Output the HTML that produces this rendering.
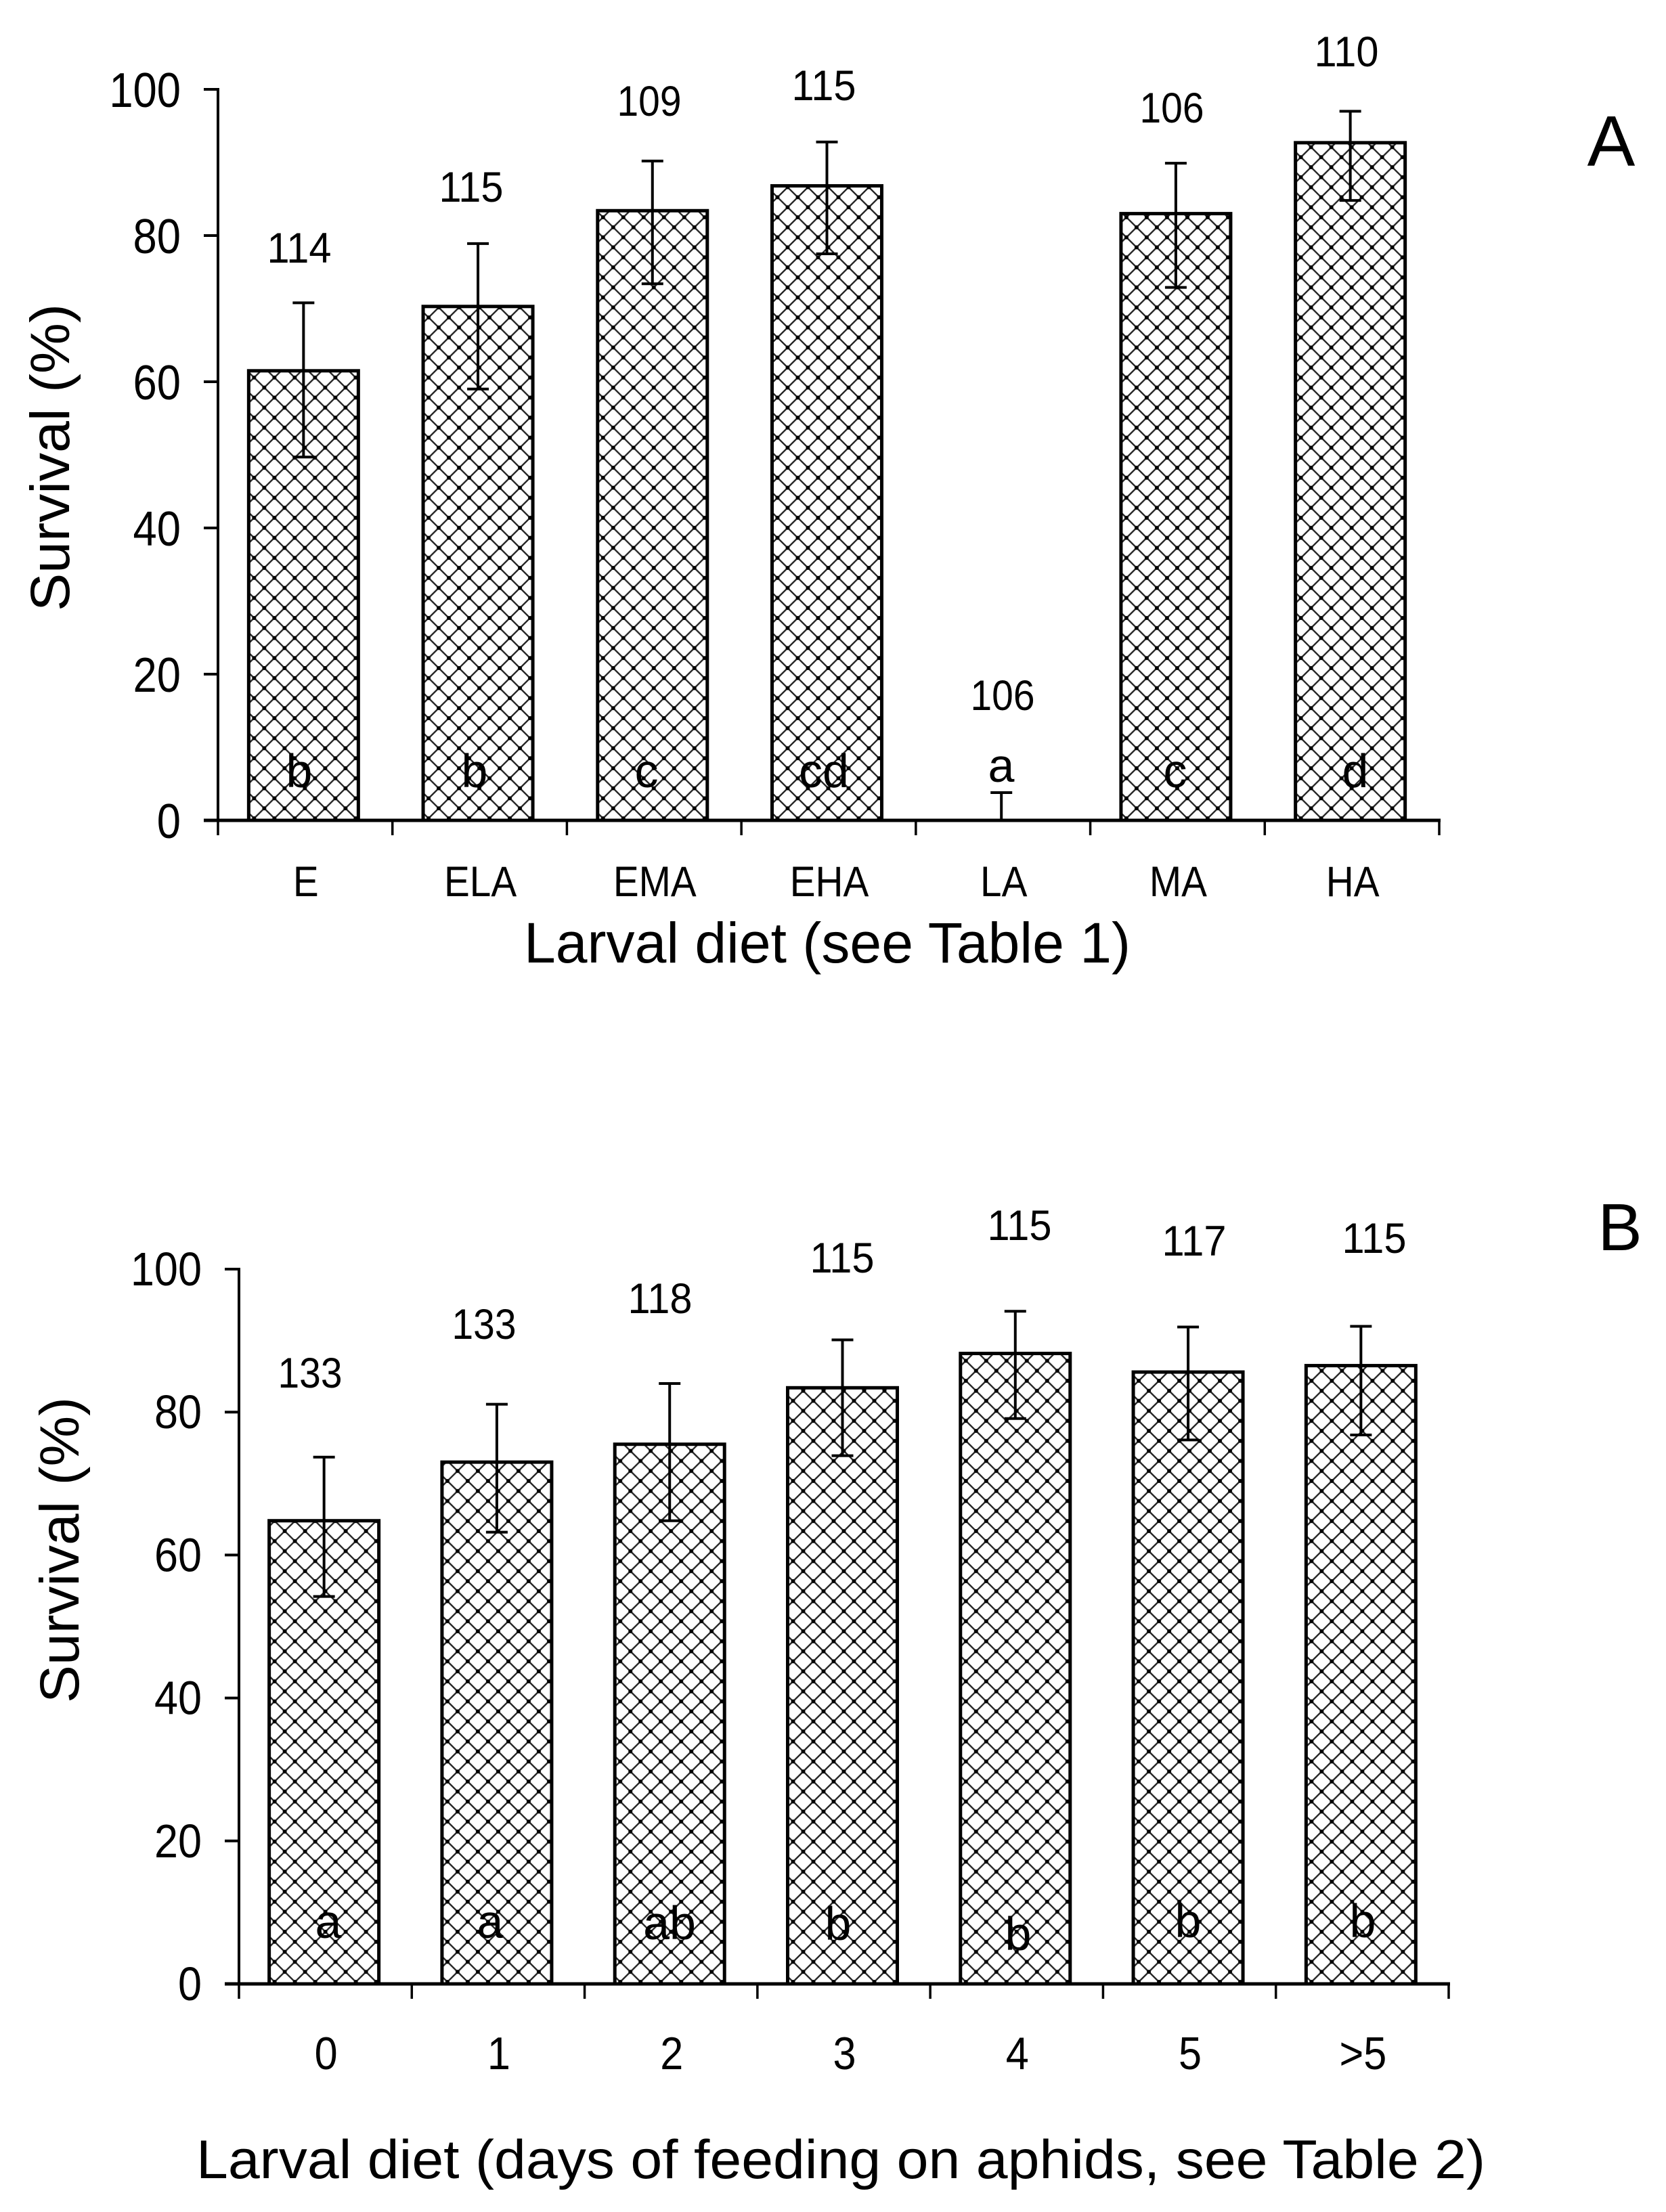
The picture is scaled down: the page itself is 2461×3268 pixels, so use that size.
<!DOCTYPE html>
<html lang="en">
<head>
<meta charset="utf-8">
<title>Larval survival by diet</title>
<style>
html,body{margin:0;padding:0;background:#fff;}
svg{display:block;}
text{font-family:"Liberation Sans",Arial,sans-serif;fill:#000;}
.n{font-size:63px;text-anchor:middle;}
.sig{font-size:70px;text-anchor:middle;}
</style>
</head>
<body>
<svg id="figure" xmlns="http://www.w3.org/2000/svg" width="2461" height="3268" viewBox="0 0 2461 3268">
  <rect width="2461" height="3268" fill="#fff"/>
  <defs id="defs"></defs>
  <g id="panelA"></g>
  <g id="panelB"></g>

  <g>
    <text class="n" x="442" y="388" textLength="95" lengthAdjust="spacingAndGlyphs">114</text>
    <text class="n" x="696" y="298" textLength="95" lengthAdjust="spacingAndGlyphs">115</text>
    <text class="n" x="959" y="171" textLength="95" lengthAdjust="spacingAndGlyphs">109</text>
    <text class="n" x="1217" y="148" textLength="95" lengthAdjust="spacingAndGlyphs">115</text>
    <text class="n" x="1481" y="1049" textLength="95" lengthAdjust="spacingAndGlyphs">106</text>
    <text class="n" x="1731" y="181" textLength="95" lengthAdjust="spacingAndGlyphs">106</text>
    <text class="n" x="1989" y="98" textLength="95" lengthAdjust="spacingAndGlyphs">110</text>
  </g>
  <g>
    <text class="sig" x="442" y="1163">b</text>
    <text class="sig" x="701" y="1163">b</text>
    <text class="sig" x="955" y="1163">c</text>
    <text class="sig" x="1217" y="1163">cd</text>
    <text class="sig" x="1479" y="1155">a</text>
    <text class="sig" x="1736" y="1163">c</text>
    <text class="sig" x="2002" y="1163">d</text>
  </g>
  <text x="2380" y="245" font-size="106" text-anchor="middle">A</text>
  <text x="1222" y="1422" font-size="84" text-anchor="middle" textLength="896" lengthAdjust="spacingAndGlyphs">Larval diet (see Table 1)</text>
  <text transform="translate(102,676) rotate(-90)" font-size="82" text-anchor="middle" textLength="454" lengthAdjust="spacingAndGlyphs">Survival (%)</text>

  <g>
    <text class="n" x="458" y="2050" textLength="95" lengthAdjust="spacingAndGlyphs">133</text>
    <text class="n" x="715" y="1978" textLength="95" lengthAdjust="spacingAndGlyphs">133</text>
    <text class="n" x="975" y="1940" textLength="95" lengthAdjust="spacingAndGlyphs">118</text>
    <text class="n" x="1244" y="1880" textLength="95" lengthAdjust="spacingAndGlyphs">115</text>
    <text class="n" x="1506" y="1832" textLength="95" lengthAdjust="spacingAndGlyphs">115</text>
    <text class="n" x="1764" y="1855" textLength="95" lengthAdjust="spacingAndGlyphs">117</text>
    <text class="n" x="2030" y="1851" textLength="95" lengthAdjust="spacingAndGlyphs">115</text>
  </g>
  <g>
    <text class="sig" x="485" y="2863">a</text>
    <text class="sig" x="724" y="2863">a</text>
    <text class="sig" x="989" y="2865">ab</text>
    <text class="sig" x="1238" y="2866">b</text>
    <text class="sig" x="1504" y="2881">b</text>
    <text class="sig" x="1755" y="2862">b</text>
    <text class="sig" x="2013" y="2862">b</text>
  </g>
  <text x="2393" y="1847" font-size="98" text-anchor="middle">B</text>
  <text x="1242" y="3218" font-size="81" text-anchor="middle" textLength="1904" lengthAdjust="spacingAndGlyphs">Larval diet (days of feeding on aphids, see Table 2)</text>
  <text transform="translate(116,2290) rotate(-90)" font-size="82" text-anchor="middle" textLength="452" lengthAdjust="spacingAndGlyphs">Survival (%)</text>
</svg>

<script>
const yTicks = [0, 20, 40, 60, 80, 100];

const categoriesA = ['E', 'ELA', 'EMA', 'EHA', 'LA', 'MA', 'HA'];
const survivalA = [61.5, 70.3, 83.4, 86.8, 0, 83, 92.7];
const errorHighA = [70.8, 78.9, 90.2, 92.8, 3.8, 89.9, 97];
const errorLowA = [49.7, 59, 73.4, 77.5, 0, 72.9, 84.8];

const categoriesB = ['0', '1', '2', '3', '4', '5', '>5'];
const survivalB = [64.8, 73, 75.5, 83.4, 88.2, 85.6, 86.5];
const errorHighB = [73.7, 81.1, 84, 90.1, 94.1, 91.9, 92];
const errorLowB = [54.2, 63.2, 64.8, 73.9, 79.1, 76.1, 76.8];

const SVGNS = 'http://www.w3.org/2000/svg';
const defs = document.getElementById('defs');

function make(parent, tag, name, attrs) {
  const el = document.createElementNS(SVGNS, tag);
  
  
  for (const k in attrs) el.setAttribute(k, attrs[k]);
  parent.appendChild(el);
  return el;
}

function line(parent, name, x1, y1, x2, y2, w) {
  return make(parent, 'line', name, {x1: x1, y1: y1, x2: x2, y2: y2, stroke: '#000', 'stroke-width': w});
}

function hatch(id, left, base) {
  const p = document.createElementNS(SVGNS, 'pattern');
  p.setAttribute('id', id);
  p.setAttribute('patternUnits', 'userSpaceOnUse');
  p.setAttribute('x', left + 8);
  p.setAttribute('y', base - 3);
  p.setAttribute('width', 30);
  p.setAttribute('height', 29.6);
  const bg = document.createElementNS(SVGNS, 'rect');
  bg.setAttribute('width', 30);
  bg.setAttribute('height', 29.6);
  bg.setAttribute('fill', '#fff');
  p.appendChild(bg);
  const d = document.createElementNS(SVGNS, 'path');
  d.setAttribute('d', 'M-2 -2L32 31.6M-2 31.6L32 -2');
  d.setAttribute('stroke', '#222');
  d.setAttribute('stroke-width', 2.4);
  d.setAttribute('fill', 'none');
  p.appendChild(d);
  [[0, 0], [30, 0], [0, 29.6], [30, 29.6], [15, 14.8]].forEach(function (c) {
    const dot = document.createElementNS(SVGNS, 'circle');
    dot.setAttribute('cx', c[0]);
    dot.setAttribute('cy', c[1]);
    dot.setAttribute('r', 3);
    dot.setAttribute('fill', '#000');
    p.appendChild(dot);
  });
  defs.appendChild(p);
}

function drawPanel(cfg) {
  const g = document.getElementById(cfg.id);
  const band = (cfg.right - cfg.left) / cfg.categories.length;
  const xCenter = i => cfg.left + band * (i + 0.5);
  const y = v => cfg.base - (v / 100) * cfg.height;

  // bars
  cfg.values.forEach(function (v, i) {
    const cx = xCenter(i) + cfg.barShift;
    const left = cx - cfg.barWidth / 2;
    if (v > 0) {
      const pid = cfg.id + '-hatch-' + i;
      hatch(pid, left, cfg.base);
      make(g, 'rect', 'bar-' + cfg.categories[i].toLowerCase().replace('>', 'over-'), {
        x: left, y: y(v), width: cfg.barWidth, height: cfg.base - y(v),
        fill: 'url(#' + pid + ')', stroke: '#000', 'stroke-width': 5
      });
    }
  });

  // error bars
  cfg.values.forEach(function (v, i) {
    const cx = xCenter(i) + cfg.barShift;
    const key = cfg.categories[i].toLowerCase().replace('>', 'over-');
    line(g, 'error-stem-' + key, cx, y(cfg.high[i]), cx, y(cfg.low[i]), 4);
    line(g, 'error-cap-high-' + key, cx - 16, y(cfg.high[i]), cx + 16, y(cfg.high[i]), 4);
    if (cfg.low[i] > 0) {
      line(g, 'error-cap-low-' + key, cx - 16, y(cfg.low[i]), cx + 16, y(cfg.low[i]), 4);
    }
  });

  // axes
  line(g, 'y-axis-line', cfg.left, y(100) - 2, cfg.left, cfg.base, 4);
  line(g, 'x-axis-line', cfg.left - 21, cfg.base, cfg.right + 2, cfg.base, 5);

  // y ticks
  yTicks.forEach(function (t) {
    line(g, 'y-tick-' + t, cfg.left - 21, y(t), cfg.left, y(t), 4);
    const label = make(g, 'text', 'y-tick-label-' + t, {
      x: cfg.yLabelRight, y: y(t) + cfg.yLabelDrop, 'font-size': cfg.yFont, 'text-anchor': 'end',
      textLength: String(t).length * 0.556 * cfg.yFont * cfg.yStretch, lengthAdjust: 'spacingAndGlyphs'
    });
    label.textContent = t;
  });

  // x ticks
  for (let i = 0; i <= cfg.categories.length; i++) {
    line(g, 'x-tick-' + i, cfg.left + band * i, cfg.base, cfg.left + band * i, cfg.base + 22, 3.5);
  }

  // category labels
  cfg.categories.forEach(function (c, i) {
    const label = make(g, 'text', 'x-tick-label-' + c.toLowerCase().replace('>', 'over-'), {
      x: xCenter(i) + cfg.labelShift, y: cfg.labelY, 'font-size': cfg.xFont, 'text-anchor': 'middle'
    });
    label.textContent = c;
    label.setAttribute('transform', 'translate(' + (xCenter(i) + cfg.labelShift) + ' 0) scale(' + cfg.xStretch + ' 1) translate(' + (-(xCenter(i) + cfg.labelShift)) + ' 0)');
  });
}

drawPanel({
  id: 'panelA', categories: categoriesA, values: survivalA, high: errorHighA, low: errorLowA,
  left: 322, right: 2126, base: 1212, height: 1080, barWidth: 162, barShift: -2.5,
  yFont: 72, yStretch: 0.88, yLabelRight: 267, yLabelDrop: 26,
  xFont: 63, xStretch: 0.9, labelShift: 1, labelY: 1324
});

drawPanel({
  id: 'panelB', categories: categoriesB, values: survivalB, high: errorHighB, low: errorLowB,
  left: 353, right: 2140, base: 2931, height: 1056, barWidth: 162, barShift: -2,
  yFont: 70, yStretch: 0.9, yLabelRight: 298, yLabelDrop: 24,
  xFont: 68, xStretch: 0.9, labelShift: 1, labelY: 3057
});
</script>
</body>
</html>
